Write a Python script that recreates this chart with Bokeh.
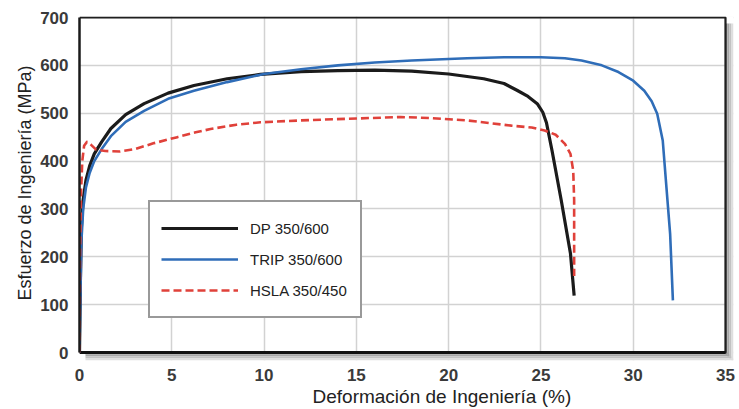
from bokeh.plotting import figure
from bokeh.models import Range1d, Legend, LegendItem, FixedTicker, Title
from bokeh.embed import file_html
from bokeh.resources import INLINE

# ---- data ----
dp_x = [0, 0.05, 0.1, 0.2, 0.35, 0.55, 0.8, 1.2, 1.7, 2.5, 3.5, 4.8, 6.2, 8, 9.8, 12, 14, 16, 18, 20,
        21.9, 23, 23.7, 24.3, 24.8, 25.1, 25.3, 25.6, 26.1, 26.6, 26.8]
dp_y = [0, 150, 260, 320, 360, 390, 415, 440, 468, 497, 520, 542, 558, 572, 581, 587, 589, 590, 588, 582,
        572, 562, 548, 535, 520, 502, 480, 422, 318, 207, 119]

trip_x = [0, 0.05, 0.1, 0.2, 0.35, 0.55, 0.8, 1.2, 1.7, 2.5, 3.5, 4.8, 6.2, 8, 10, 12, 14, 16, 18, 21,
          23, 25, 26.3, 27.2, 28.3, 29.2, 30, 30.6, 31.0, 31.3, 31.6, 31.8, 32.0, 32.15]
trip_y = [0, 120, 230, 300, 345, 375, 400, 425, 452, 482, 505, 530, 547, 565, 582, 592, 600, 606, 610, 615,
          617, 617, 615, 610, 600, 586, 568, 547, 525, 499, 443, 345, 248, 109]

hsla_x = [0, 0.03, 0.08, 0.15, 0.25, 0.4, 0.6, 0.9, 1.4, 2.2, 3, 4, 5.3, 6.3, 7.1, 8.5, 9.8, 12, 15, 17.4,
          19, 21, 23.4, 24.5, 25.2, 25.8, 26.3, 26.6, 26.75, 26.8, 26.8]
hsla_y = [0, 200, 330, 400, 432, 440, 435, 424, 421, 420, 425, 437, 450, 460, 467, 476, 481, 485, 489, 492,
          490, 485, 474, 470, 464, 455, 436, 415, 380, 318, 160]

series_names = ["DP 350/600", "TRIP 350/600", "HSLA 350/450"]
x_ticks = [0, 5, 10, 15, 20, 25, 30, 35]
y_ticks = [0, 100, 200, 300, 400, 500, 600, 700]
x_title = "Deformación  de Ingeniería  (%)"
y_title = "Esfuerzo de Ingeniería (MPa)"

X0, X1 = 0, 35
Y0, Y1 = 0, 700

FONT = "Liberation Sans"

# pixel geometry of the plot box
px_x = (X1 - X0) / 646.0   # data units per pixel
px_y = (Y1 - Y0) / 335.0
SH = 8  # shadow width in px

p = figure(width=739, height=409, output_backend="svg", toolbar_location=None,
           x_range=Range1d(X0, X1 + SH * px_x), y_range=Range1d(Y0 - SH * px_y, Y1 + 1 * px_y),
           min_border_left=79, min_border_right=6, min_border_top=16, min_border_bottom=49)

p.background_fill_color = "white"
p.border_fill_color = "white"
p.outline_line_color = None

for ax in (p.xaxis, p.yaxis):
    ax.major_tick_line_color = None
    ax.minor_tick_line_color = None
    ax.major_label_text_font = FONT
    ax.major_label_text_font_style = "bold"
    ax.major_label_text_font_size = "17px"
    ax.major_label_text_color = "#3a3a3a"
p.xaxis.ticker = FixedTicker(ticks=x_ticks)
p.yaxis.ticker = FixedTicker(ticks=y_ticks)
p.xaxis.axis_line_color = None
p.xaxis.major_label_standoff = 2
p.yaxis.axis_line_color = "#1a1a1a"
p.yaxis.axis_line_width = 2.5
p.yaxis.bounds = (Y0, Y1)
p.yaxis.major_label_standoff = 5

p.grid.grid_line_color = "#d2d2d2"
p.grid.grid_line_width = 1.5
p.xgrid.bounds = (X0, X1)
p.ygrid.bounds = (Y0, Y1)

# drop shadow of the plot box (drawn as data-space quads in the extra margin)
shades = ["#8c8c8c", "#a6a6a6", "#c2c2c2", "#dedede"]
p.quad(left=[X1], right=[X1 + SH * px_x], bottom=[Y0 - SH * px_y], top=[Y1 + 2 * px_y],
       fill_color="white", line_color=None)
p.quad(left=[X0 - 1], right=[X1 + SH * px_x], bottom=[Y0 - SH * px_y], top=[Y0],
       fill_color="white", line_color=None)
for i, c in enumerate(shades):
    p.quad(left=[X1 + (2 * i) * px_x], right=[X1 + (2 * i + 2) * px_x],
           bottom=[Y0 - (2 * i + 2) * px_y], top=[Y1 - 6 * px_y],
           fill_color=c, line_color=None)
    p.quad(left=[X0 + 6 * px_x], right=[X1 + (2 * i + 2) * px_x],
           bottom=[Y0 - (2 * i + 2) * px_y], top=[Y0 - (2 * i) * px_y],
           fill_color=c, line_color=None)

# plot box border
p.line([X0, X1, X1, X0], [Y0, Y0, Y1, Y1], line_color="#1f1f1f", line_width=2.2)
p.line([X0, X1], [Y0, Y0], line_color="#111111", line_width=2.8)

r_dp = p.line(dp_x, dp_y, line_color="#1b1b1b", line_width=3.2, line_join="round")
r_trip = p.line(trip_x, trip_y, line_color="#2f6db8", line_width=2.6, line_join="round")
r_hsla = p.line(hsla_x, hsla_y, line_color="#e0413a", line_width=2.6, line_dash="8 4", line_join="round")

legend = Legend(items=[LegendItem(label=series_names[0], renderers=[r_dp]),
                       LegendItem(label=series_names[1], renderers=[r_trip]),
                       LegendItem(label=series_names[2], renderers=[r_hsla])],
                location=(69, 42), orientation="vertical")
legend.border_line_color = "#333333"
legend.border_line_width = 2
legend.background_fill_color = "white"
legend.background_fill_alpha = 1
legend.margin = 0
legend.padding = 11
legend.spacing = 1
legend.glyph_height = 30
legend.label_height = 30
legend.glyph_width = 77
legend.label_standoff = 12
legend.label_width = 99
legend.label_text_font = FONT
legend.label_text_font_size = "15px"
legend.label_text_color = "#222222"
p.add_layout(legend, "center")

xt = Title(text=x_title, align="left", offset=233, text_font=FONT, text_font_size="19px",
           text_font_style="normal", text_color="#222222", standoff=1)
p.add_layout(xt, "below")
yt = Title(text=y_title, align="left", offset=60, text_font=FONT, text_font_size="18px",
           text_font_style="normal", text_color="#222222", standoff=6)
p.add_layout(yt, "left")

open("out.html", "w").write(file_html(p, INLINE))
